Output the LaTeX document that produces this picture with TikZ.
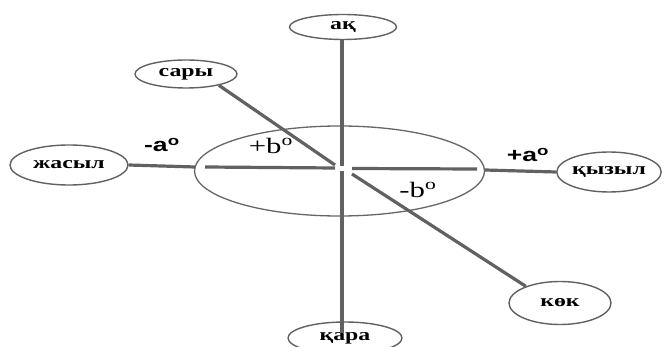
\documentclass[tikz,border=0pt]{standalone}
\usepackage{fontspec}
\usepackage{graphicx}
\setmainfont{Liberation Serif}
\newfontfamily\lsans{Liberation Sans}
\usetikzlibrary{shapes.geometric}
\newcommand\hstr[1]{\scalebox{1.4}[1]{#1}}
\begin{document}
\begin{tikzpicture}[x=1pt,y=-1pt,
  oval/.style={ellipse,draw=black!62,line width=1.4pt,inner sep=0pt,
    font=\bfseries\fontsize{17}{17}\selectfont},
  axisline/.style={draw=black!62,line width=3.2pt},
  sanslab/.style={inner sep=0pt,font=\lsans\bfseries\fontsize{19}{19}\selectfont},
  seriflab/.style={inner sep=0pt,font=\fontsize{22}{22}\selectfont}]
\useasboundingbox (0,0) rectangle (664,347);
\clip (0,0) rectangle (664,347);
\fill[white] (0,0) rectangle (664,347);
% central ellipse
\node[ellipse,draw=black!60,line width=1.3pt,minimum width=290,minimum height=90] (mid) at (339.5,171) {};
% outer ovals
\node[oval,minimum width=107,minimum height=25] (ak) at (343,27) {\hstr{ақ}};
\node[oval,minimum width=102,minimum height=28] (sary) at (186,74) {\hstr{сары}};
\node[oval,minimum width=118,minimum height=40] (jasyl) at (69,165) {\hstr{жасыл}};
\node[oval,minimum width=102,minimum height=40] (qyzyl) at (609,172) {\hstr{қызыл}};
\node[oval,minimum width=114,minimum height=32] (kara) at (345,338) {\hstr{қара}};
\node[oval,minimum width=102,minimum height=43] (kok) at (560,303) {\hstr{көк}};
% coordinates
\coordinate (ctop) at (342,166);
\coordinate (cbot) at (342,171);
\coordinate (kend) at (342,333);
\coordinate (cl) at (335,168);
\coordinate (cr) at (352,168.5);
\coordinate (el1) at (195,167);
\coordinate (el2) at (205,167);
\coordinate (er1) at (477,169);
\coordinate (er2) at (485,170);
\coordinate (dul) at (335,165);
\coordinate (dlr) at (352,174);
% axes
\draw[axisline] (ak.south -| ctop) -- (ctop);
\draw[axisline] (cbot) -- (kend);
\draw[axisline] (jasyl.east) -- (el1);
\draw[axisline] (el2) -- (cl);
\draw[axisline] (cr) -- (er1);
\draw[axisline] (er2) -- (qyzyl.west);
\draw[axisline] (sary.-19) -- (dul);
\draw[axisline] (dlr) -- (kok.154);
% labels
\node[sanslab] (am) at (162,145) {\hstr{-a\textsuperscript{o}}};
\node[sanslab] (ap) at (528,155) {\hstr{+a\textsuperscript{o}}};
\node[seriflab] (bp) at (271,146) {\hstr{+b\textsuperscript{o}}};
\node[seriflab] (bm) at (418,190) {\hstr{-b\textsuperscript{o}}};
\end{tikzpicture}
\end{document}
